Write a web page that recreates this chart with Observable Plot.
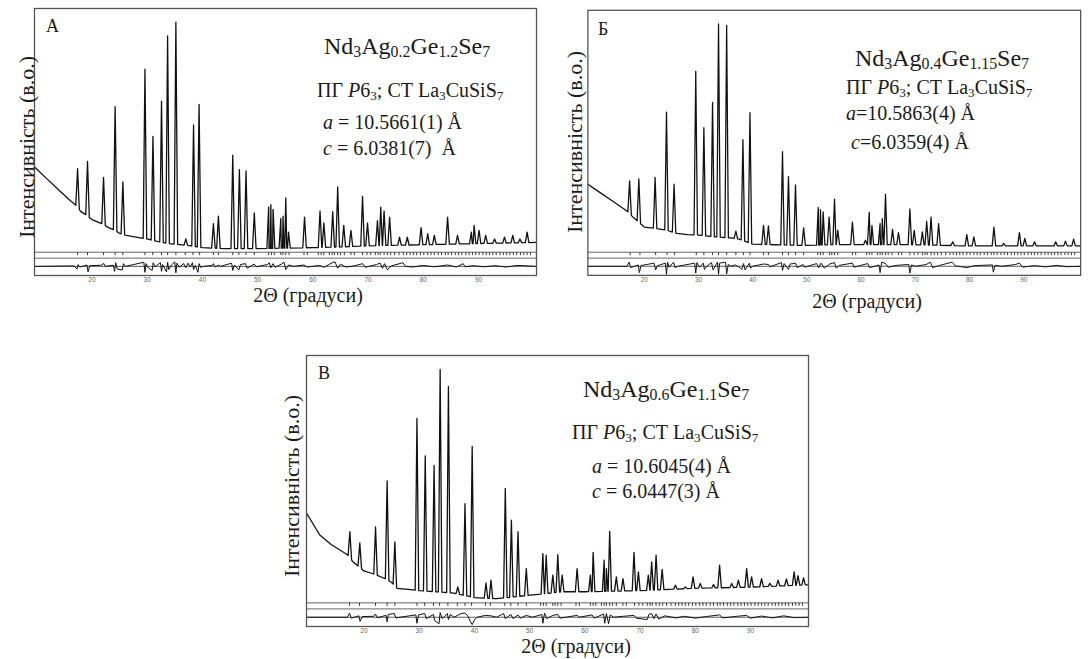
<!DOCTYPE html>
<html><head><meta charset="utf-8">
<script src="https://cdn.jsdelivr.net/npm/d3@7"></script>
<script src="https://cdn.jsdelivr.net/npm/@observablehq/plot@0.6"></script>
<style>
html,body{margin:0;padding:0;background:#fff;overflow:hidden;width:1089px;height:659px}
#page{position:relative;width:1089px;height:659px;overflow:hidden;color:#1a1a1a}
.panel{position:absolute}
.t,.yl,.xl{font-family:"Liberation Serif","Times New Roman","Nimbus Roman","DejaVu Serif",serif}
.t{position:absolute;white-space:nowrap;line-height:1}
sub{font-size:0.66em;vertical-align:-0.2em;line-height:0}
.yl{position:absolute;white-space:nowrap;line-height:1;font-size:22px;transform:translate(-50%,-50%) rotate(-90deg)}
.xl{position:absolute;white-space:nowrap;line-height:1;font-size:20px;transform:translate(-50%,-50%)}
</style></head><body><div id="page"></div><script>
// ---------- data ----------
const xTicks = [20, 30, 40, 50, 60, 70, 80, 90];
const xDomain = [9.6, 100.5];
const yDomain = [-11, 106];

// Bragg reflection positions (2θ)
const reflections = [17.4,19.2,22.1,24.2,25.6,29.6,31.0,32.6,33.7,35.2,36.9,38.3,39.5,42.0,42.9,45.5,46.6,47.9,49.4,
 52.0,52.5,53.0,54.2,54.6,55.1,55.7,58.4,59.0,61.0,61.5,62.0,63.0,63.5,63.9,64.5,65.0,65.7,66.9,67.5,69.0,69.8,70.5,
 71.3,71.8,72.2,72.9,73.5,74.1,74.8,75.6,76.4,77.0,77.6,78.2,78.8,79.5,80.1,80.8,81.4,82.0,82.7,83.3,84.0,84.5,85.1,
 85.8,86.4,87.0,87.7,88.3,88.9,89.5,90.1,90.8,91.4,92.0,92.6,93.2,93.9,94.5,95.1,95.7,96.3,96.9,97.6,98.2,98.8,99.4];

// Panel A: background, peaks [2θ, intensity], difference curve
const bgA = [[9.7,36.3],[12,31],[14,26.5],[16,22],[17,20],[18,17],[19,15.5],[20,13.5],[21,12.5],[22,11.5],[23,10],[24,9],
 [25,7.5],[26,6.7],[28,5.8],[30,5],[32,3.8],[34,3],[36,2.5],[38,2],[40,1.2],[44,0.8],[50,0.8],[55,1],[60,1.2],[65,1.5],
 [70,2],[80,2.5],[90,3],[100.5,3.5]];
const peaksA = [[17.4,35.8],[19.2,39],[22.1,32],[24.2,63],[25.6,30],[29.6,79.4],[31.05,50],[32.6,65.4],[33.7,94],[35.2,100],
 [37.0,5],[38.4,55],[39.4,64],[42.0,11.7],[42.9,15],[45.5,41.7],[46.7,35.4],[47.9,34.8],[49.4,16.4],[52.0,19],[52.4,20],
 [52.8,18],[54.2,14],[54.6,15],[55.1,23],[55.6,8],[58.5,14.6],[61.3,17.3],[62.0,12],[63.6,17],[64.5,27.8],[65.6,11],
 [66.9,8.8],[69.0,23.7],[69.9,12],[71.7,13],[72.3,19],[72.9,17.3],[73.9,14.6],[75.7,5.8],[77.1,5.8],[79.6,10],[80.8,7.3],
 [82.0,6.6],[84.4,14.6],[86.2,6.6],[88.7,8],[89.2,11],[90.1,8.8],[91.3,6.6],[92.9,5],[94.7,5.8],[96.2,6.6],[97.5,5],[98.8,8]];
const diffA = [[9.6,0],[16.8,0.2],[17.3,-1.2],[17.5,0.8],[17.8,-0.3],[19.1,0.6],[19.3,-2.4],[19.6,0.3],[21.8,0.5],[22.1,1.4],
 [22.4,0],[23.9,0.5],[24.1,-2.2],[24.3,1.6],[24.6,-1.2],[25.5,-1.6],[25.7,1.2],[26.1,0],[29.4,1.8],[29.6,-2.6],[29.8,1.2],
 [30.1,-0.4],[30.9,-1.8],[31.1,1.6],[31.4,-0.2],[32.4,1.6],[32.6,-2.2],[32.8,0.8],[33.5,-2.4],[33.7,1.8],[33.9,-1.4],
 [34.4,0.6],[35,2],[35.2,-2.8],[35.4,1.4],[35.8,-0.4],[36.6,1.2],[37,-0.6],[37.4,1.4],[37.8,-0.2],[38.2,1.6],[38.4,-1.4],
 [38.7,0.4],[39.2,-2.6],[39.4,1.2],[39.7,-0.4],[40.2,0],[41.8,0.4],[42,1.2],[42.3,-0.3],[42.9,0.6],[43.3,0],[45.3,1.4],
 [45.5,-1.8],[45.8,0.6],[46.6,-1.6],[46.9,0.8],[47.8,1.2],[48.1,-0.8],[49.4,1],[49.7,-0.2],[51.8,0.8],[52.1,1.6],[52.4,-0.6],
 [52.8,1.2],[53.2,-0.4],[54.3,1],[54.8,1.8],[55.1,-1.4],[55.6,0.6],[56.5,0],[58.4,0.6],[59,-0.3],[61.2,0.4],[62,-0.4],
 [63.5,1.6],[64,2],[64.5,-0.8],[65,1],[66,-0.3],[67.5,0.2],[69,1.2],[69.5,-0.4],[71.5,0.8],[72.2,1.4],[72.6,-0.8],[73,1.2],
 [73.5,-1.6],[74.2,0.2],[76.3,1.6],[76.8,0],[78,-0.3],[80,0.4],[82,-0.2],[84.4,0.6],[86,-0.3],[87.2,1.2],[87.6,-0.2],
 [89,0.3],[91,-0.2],[93,0.3],[95,-0.3],[97,0.4],[99,0.2],[100.5,0]];

// Panel B
const bgB = [[9.4,29.5],[12,25.3],[14,22],[16,18.7],[17,17],[18,14.5],[19,12.5],[20,10.3],[22,9.8],[24,9],[26,7.5],[28,7],
 [30,6.8],[33,6],[36,5.5],[37.5,5],[40,2.8],[44,2.5],[50,2.2],[55,2.6],[60,2.6],[70,2.5],[80,2],[90,2],[100.5,2]];
const peaksB = [[17.3,30.7],[19.0,31.6],[22.0,32.2],[24.1,61.1],[25.5,29.3],[29.5,79],[31.0,54.2],[32.6,65.3],[33.7,100],
 [35.2,99.3],[36.9,8.5],[38.2,48.9],[39.5,60.8],[42.0,11.1],[42.9,10.8],[45.5,43.6],[46.6,32.6],[47.9,28.9],[49.4,10],
 [52.1,19],[52.5,18],[53.0,17],[54.1,14.7],[55.1,22.6],[55.7,8.9],[58.4,12.5],[60.8,4.5],[61.5,16.8],[62.0,11],[63.5,11.8],
 [63.9,14],[64.5,24.8],[65.8,9.3],[66.9,7.9],[69.0,18.3],[69.8,8.9],[71.3,8.2],[72.1,12.8],[72.9,14.7],[74.3,11.8],
 [76.9,3.8],[79.5,7],[80.8,6],[84.5,10.3],[86.3,3.1],[89.2,7.9],[90.2,5.3],[92.0,3.8],[95.9,3.8],[97.7,4.1],[99.2,5]];
const diffB = [[9.4,0],[16.8,0],[17.2,1.8],[17.5,-0.6],[18.9,0.6],[19.1,-2.8],[19.4,0.3],[21.8,1.4],[22.1,-1.6],[22.4,0.2],
 [23.9,1.4],[24.1,-3.6],[24.3,1.8],[24.6,-0.4],[25.4,1.8],[25.7,-0.6],[26.2,0],[29.3,1.4],[29.5,-3],[29.7,1.6],[30.2,-0.4],
 [30.9,1.4],[31.1,-1.4],[31.5,0],[32.4,1.6],[32.7,-1.6],[33.5,1.8],[33.7,-3.6],[33.9,1.4],[35,1.8],[35.2,-3.4],[35.5,0.8],
 [36,0],[36.8,0.6],[37.5,-0.4],[38,-1.4],[38.3,1.2],[38.6,-1.6],[39.4,1.4],[39.6,-0.8],[40,0],[42,1],[42.9,0.8],[43.2,-0.2],
 [45.3,1.6],[45.5,-1.8],[45.8,1.2],[46.6,-1.4],[46.9,1],[47.9,1.4],[48.2,-0.6],[49.3,0.8],[49.6,-0.4],[51.8,1.2],[52.2,-0.6],
 [52.6,1.4],[53.2,-0.8],[54.2,1],[55.1,1.6],[55.4,-0.8],[56,0.4],[58.4,1.4],[58.7,-0.4],[61.2,1.2],[61.6,-0.6],[63.3,0.6],
 [63.5,-2.8],[63.8,1.8],[64.5,1.2],[65,-0.4],[66.5,0.4],[68.8,0.8],[69,-3],[69.3,0.6],[70,0],[72,0.8],[72.8,1.8],[73.2,-0.6],
 [74.5,0.4],[76.8,1.8],[77.4,0.2],[79.5,-0.6],[81,0.3],[84.2,0.6],[84.4,-2.6],[84.7,0.4],[86,0],[88.5,0.8],[89.2,1.4],
 [89.8,-0.4],[92,0.3],[94,-0.3],[96,0.4],[98,-0.2],[100.5,0]];

// Panel C (В)
const bgC = [[9.6,38],[12,28.5],[14,24.5],[16,21.5],[17,20],[18,17],[19,15],[20,13],[22,11.5],[24,9.5],[25,8],[26,5.5],
 [28,5],[30,4.5],[33,4],[36,3.5],[38,2.5],[40,1.5],[44,1],[48,2],[52,3],[56,4],[60,4],[70,4.5],[80,5.5],[90,6],[100.5,7]];
const peaksC = [[17.45,29.9],[19.25,25.1],[22.1,32],[24.2,51.9],[25.6,25.5],[29.6,78.8],[31.1,62.7],[32.7,58.6],[33.8,100],
 [35.3,92.7],[37.0,6.1],[38.3,42],[39.6,66.8],[42.1,7.8],[43.0,9],[45.6,48.6],[46.7,34.9],[47.9,29.9],[49.4,14],[52.4,20.5],
 [53.0,19.8],[54.2,11.2],[55.1,20],[55.9,11.2],[58.6,14],[61.0,11.2],[61.5,21],[63.5,17.6],[63.9,14],[64.5,30.1],[65.7,10.4],
 [66.9,9.7],[68.9,21],[69.7,12.6],[71.5,11.2],[72.1,16.9],[72.9,19.8],[74.0,13.7],[76.4,6.8],[78.2,6.1],[79.6,10.4],
 [80.9,7.6],[83.3,7.1],[84.4,15.5],[86.6,7.6],[87.8,9],[89.3,14],[90.2,10.4],[92.0,9.7],[93.5,7.6],[95.0,9],[96.5,9.5],
 [97.9,12.6],[98.6,11],[99.6,10]];
const diffC = [[9.6,0],[17,0],[17.4,1.8],[17.7,-0.4],[19.1,0.6],[19.3,-1.8],[19.7,0.3],[21.8,0.4],[22.1,1.4],[22.4,-0.2],
 [24,0.8],[24.2,-2],[24.4,1.2],[25.5,1.6],[25.8,-0.3],[26.5,0],[29.4,1],[29.6,-2.6],[29.9,1],[31,1.6],[31.3,-0.6],[32.6,1.2],
 [32.8,-1.4],[33.6,-2.8],[33.8,2],[34.2,-0.6],[35.1,1.6],[35.3,-1],[35.6,1.2],[36.3,0],[37,0.8],[37.6,1.6],[38.3,1.8],
 [38.8,0.6],[39.3,-2],[39.6,-3.2],[40,-1.2],[40.5,0],[42,0.8],[43,0.6],[44,0],[45.3,1.6],[45.6,-0.6],[46.6,1.2],[47,-0.6],
 [47.9,1],[48.3,-0.4],[49.4,0.8],[50.5,0],[52.2,1.2],[52.4,-2.6],[52.7,1.8],[53.1,-0.6],[54.2,0.8],[55.1,1.2],[55.5,-0.4],
 [58.6,0.8],[59,0],[61.3,1],[61.7,-0.4],[63.4,1.4],[63.6,-2.6],[63.9,1.6],[64.3,-2.8],[64.6,1],[65.2,0],[67,0.4],[68.9,0.8],
 [69.3,-0.4],[71.3,-1],[71.6,1.2],[72.1,1.6],[72.5,-0.6],[72.9,1.4],[73.4,-0.8],[74.5,0.6],[76.5,-0.3],[78,0.4],[80,-0.4],
 [82,0.3],[84.4,1],[85,-0.3],[87.5,0.4],[89.3,0.8],[90,-0.4],[92,0.5],[94,-0.3],[96,0.6],[98,-0.2],[100.5,0]];

const panelLetters = ["А", "Б", "В"];
const formulas = ["Nd<sub>3</sub>Ag<sub>0.2</sub>Ge<sub>1.2</sub>Se<sub>7</sub>",
                  "Nd<sub>3</sub>Ag<sub>0.4</sub>Ge<sub>1.15</sub>Se<sub>7</sub>",
                  "Nd<sub>3</sub>Ag<sub>0.6</sub>Ge<sub>1.1</sub>Se<sub>7</sub>"];
const groupLine = "ПГ <i>P</i>6<sub>3</sub>; СТ La<sub>3</sub>CuSiS<sub>7</sub>";
const aLines = ["<i>a</i> = 10.5661(1) Å", "<i>a</i>=10.5863(4) Å", "<i>a</i> = 10.6045(4) Å"];
const cLines = ["<i>c</i> = 6.0381(7)&nbsp; Å", "&nbsp;<i>c</i>=6.0359(4) Å", "<i>c</i> = 6.0447(3) Å"];
const yLabel = "Інтенсивність (в.о.)";
const xLabel = "2Θ (градуси)";

// ---------- drawing ----------
const page = document.getElementById("page");
const peakHalfWidth = 0.32;
const diffZero = -7;

function profile(bg, peaks) {
  const bgAt = d3.scaleLinear().domain(bg.map(d => d[0])).range(bg.map(d => d[1]));
  const pts = bg.filter(([x]) => !peaks.some(([p]) => Math.abs(x - p) < peakHalfWidth))
                .map(([x, y]) => ({x, y}));
  for (const [p, h] of peaks) {
    pts.push({x: p - peakHalfWidth, y: bgAt(p - peakHalfWidth)}, {x: p, y: h}, {x: p + peakHalfWidth, y: bgAt(p + peakHalfWidth)});
  }
  return pts.sort((a, b) => a.x - b.x);
}

function drawPanel(cfg) {
  const chart = Plot.plot({
    width: 545, height: cfg.mt + cfg.ph + 26,
    marginLeft: 34, marginRight: 9, marginTop: cfg.mt, marginBottom: 26,
    x: {domain: xDomain},
    y: {domain: yDomain, axis: null},
    style: {background: "transparent", overflow: "visible"},
    marks: [
      Plot.ruleY([-0.8, -3.4], {stroke: "#555", strokeWidth: 0.9}),
      Plot.ruleX(reflections, {y1: -1.0, y2: -2.3, stroke: "#222", strokeWidth: 0.9}),
      Plot.ruleY([diffZero], {stroke: "#333", strokeWidth: 0.8}),
      Plot.line(cfg.diff, {x: d => d[0], y: d => diffZero + d[1], stroke: "#111", strokeWidth: 1, clip: true}),
      Plot.line(profile(cfg.bg, cfg.peaks), {x: "x", y: "y", stroke: "#111", strokeWidth: 1.3, clip: true}),
      Plot.frame({stroke: "#555", strokeWidth: 1.3}),
      Plot.axisX(xTicks, {tickSize: 0, tickPadding: 2, fontSize: 6.5, fill: "#666", fontFamily: "Liberation Sans", label: null})
    ]
  });
  const div = document.createElement("div");
  div.className = "panel";
  div.style.left = cfg.left + "px";
  div.style.top = cfg.top + "px";
  div.appendChild(chart);
  page.appendChild(div);
}

function addText(html, left, cy, size) {
  const d = document.createElement("div");
  d.className = "t";
  d.style.left = left + "px";
  d.style.top = (cy - 0.5 * size) + "px";
  d.style.fontSize = size + "px";
  d.innerHTML = html;
  page.appendChild(d);
}
function addLabel(cls, text, cx, cy) {
  const d = document.createElement("div");
  d.className = cls;
  d.style.left = cx + "px";
  d.style.top = cy + "px";
  d.textContent = text;
  page.appendChild(d);
}

drawPanel({left: 0, top: 0, mt: 8, ph: 267, bg: bgA, peaks: peaksA, diff: diffA});
drawPanel({left: 554, top: 0, mt: 10, ph: 270, bg: bgB, peaks: peaksB, diff: diffB});
drawPanel({left: 272, top: 347, mt: 8, ph: 271, bg: bgC, peaks: peaksC, diff: diffC});

const textPos = [
  {letter: [46, 26], f: [324, 46], g: [317, 90], a: [323, 122], c: [323, 148], y: [27, 147], x: [308, 295]},
  {letter: [598, 29], f: [855, 58], g: [846, 87], a: [846, 113], c: [846, 142], y: [575, 142], x: [867, 301]},
  {letter: [318, 373], f: [583, 389], g: [572, 432], a: [592, 466], c: [592, 491], y: [292, 486], x: [576, 646]}
];
textPos.forEach((p, i) => {
  addText(panelLetters[i], p.letter[0], p.letter[1], 18);
  addText(formulas[i], p.f[0], p.f[1], 24);
  addText(groupLine, p.g[0], p.g[1], 20);
  addText(aLines[i], p.a[0], p.a[1], 20);
  addText(cLines[i], p.c[0], p.c[1], 20);
  addLabel("yl", yLabel, p.y[0], p.y[1]);
  addLabel("xl", xLabel, p.x[0], p.x[1]);
});
</script></body></html>
